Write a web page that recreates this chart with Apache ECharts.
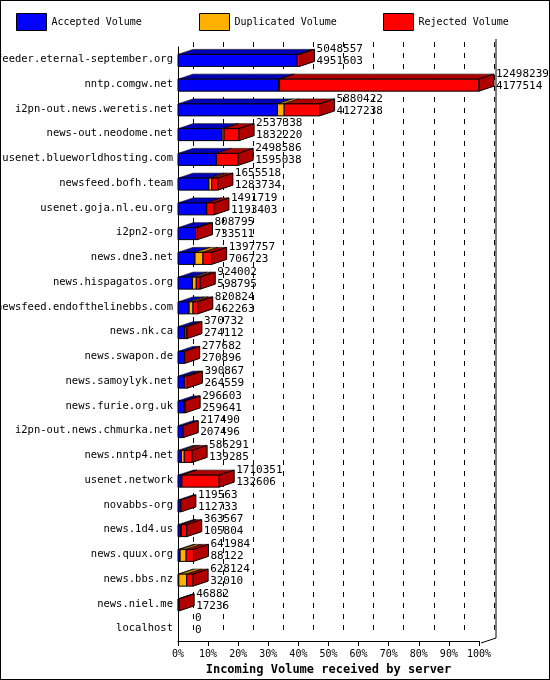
<!DOCTYPE html><html><head><meta charset="utf-8"><script src="https://cdn.jsdelivr.net/npm/echarts@6/dist/echarts.min.js"></script>
<style>html,body{margin:0;padding:0;background:#fff}#c{width:550px;height:680px;box-sizing:border-box;border:1px solid #000}</style></head><body><div id="c"></div><script>
const servers=["feeder.eternal-september.org","nntp.comgw.net","i2pn-out.news.weretis.net","news-out.neodome.net","usenet.blueworldhosting.com","newsfeed.bofh.team","usenet.goja.nl.eu.org","i2pn2-org","news.dne3.net","news.hispagatos.org","newsfeed.endofthelinebbs.com","news.nk.ca","news.swapon.de","news.samoylyk.net","news.furie.org.uk","i2pn-out.news.chmurka.net","news.nntp4.net","usenet.network","novabbs-org","news.1d4.us","news.quux.org","news.bbs.nz","news.niel.me","localhost"];
const total=[5048557,12498239,5880422,2537338,2498586,1655518,1491719,808795,1397757,924002,820824,370732,277682,390867,296603,217490,586291,1710351,119563,363567,641984,628124,46882,0];
const accepted=[4951603,4177514,4127238,1832220,1595038,1283734,1193403,733511,706723,598795,462263,274112,270896,264559,259641,207496,139285,132606,112733,105804,88122,32010,17236,0];
const duplicated=[0,40000,280000,80000,0,120000,0,0,330000,160000,160000,0,0,0,0,0,120000,30000,0,30000,250000,330000,0,0];
const ticks=["0%","10%","20%","30%","40%","50%","60%","70%","80%","90%","100%"];
const maxT=Math.max(...total);
const pct=v=>v/maxT*100;
const DX=15,DY=5,H=12;
const F='"DejaVu Sans Mono",monospace';
function seg(kind,front,top){
  const data=servers.map((s,i)=>{
    const a=accepted[i],d=duplicated[i];
    let s0,s1;
    if(kind==='a'){s0=0;s1=a}else if(kind==='d'){s0=a;s1=a+d}else{s0=a+d;s1=total[i]}
    return [pct(s0),pct(s1),i];
  });
  return {type:'custom',name:kind==='a'?'Accepted Volume':kind==='d'?'Duplicated Volume':'Rejected Volume',
    color:front,data,encode:{x:[0,1],y:2},z:kind==='r'?3:(kind==='d'?2:1),
    renderItem(p,api){
      const i=api.value(2);
      const p0=api.coord([api.value(0),i]),p1=api.coord([api.value(1),i]);
      const ch=[];
      const w=p1[0]-p0[0];
      const y0=p0[1]-H/2+1,y1=y0+H;
      if(w>0.3){
        ch.push({type:'polygon',shape:{points:[[p0[0],y0],[p0[0]+DX,y0-DY],[p1[0]+DX,y0-DY],[p1[0],y0]]},style:{fill:top,stroke:'#000',lineWidth:0.6}});
        ch.push({type:'rect',shape:{x:p0[0],y:y0,width:w,height:H},style:{fill:front,stroke:'#000',lineWidth:1}});
      }
      if(kind==='r'){
        const t=total[i];
        if(t>0){
          ch.push({type:'polygon',shape:{points:[[p1[0],y0],[p1[0]+DX,y0-DY],[p1[0]+DX,y1-DY],[p1[0],y1]]},style:{fill:'#b00000',stroke:'#000',lineWidth:1}});
        }
        ch.push({type:'text',style:{x:p1[0]+DX+2,y:y0-11,text:String(t)+'\n'+String(accepted[i]),font:'11px '+F,fill:'#000',lineHeight:12}});
      }
      return {type:'group',children:ch};
    }};
}
const lg=(name,left)=>({top:7,left,itemWidth:30,itemHeight:17,icon:'rect',textStyle:{fontFamily:F,fontSize:10,color:'#000'},
    data:[name],itemStyle:{borderColor:'#000',borderWidth:1}});
const chart=echarts.init(document.getElementById('c'));
chart.setOption({animation:false,
  legend:[lg('Accepted Volume',10),lg('Duplicated Volume',193),lg('Rejected Volume',377)],
  grid:[{left:177,right:70,top:46,bottom:38,outerBoundsMode:'none',containLabel:false},{left:192,right:55,top:41,bottom:43,outerBoundsMode:'none',containLabel:false}],
  xAxis:[{type:'value',min:0,max:100,interval:10,gridIndex:0,splitLine:{show:false},
      axisLine:{show:true,lineStyle:{color:'#000'}},axisTick:{show:true,length:5,lineStyle:{color:'#000'}},
      axisLabel:{formatter:v=>ticks[v/10],fontFamily:F,fontSize:10,color:'#000'},
      name:'Incoming Volume received by server',nameLocation:'middle',nameGap:22,nameTextStyle:{fontFamily:F,fontSize:12,fontWeight:'bold',color:'#000'}},
    {type:'value',min:0,max:100,interval:10,gridIndex:1,axisLine:{show:false},axisTick:{show:false},axisLabel:{show:false},
      splitLine:{show:true,lineStyle:{color:'#000',type:[5,6],width:1}}}],
  yAxis:[{type:'category',data:servers,inverse:true,gridIndex:0,axisLine:{show:true,lineStyle:{color:'#000'}},axisTick:{show:false},
      axisLabel:{fontFamily:F,fontSize:10.5,color:'#000',margin:5}},
    {type:'category',data:servers,gridIndex:1,show:false}],
  graphic:[{type:'line',shape:{x1:495,y1:38,x2:495,y2:637},style:{stroke:'#000',lineWidth:1}},
    {type:'line',shape:{x1:480,y1:642,x2:495,y2:637},style:{stroke:'#000',lineWidth:1}}],
  series:[seg('a','#0000ff','#0000b8'),seg('d','#ffb000','#c08000'),seg('r','#ff0000','#b00000')]
});
</script></body></html>
